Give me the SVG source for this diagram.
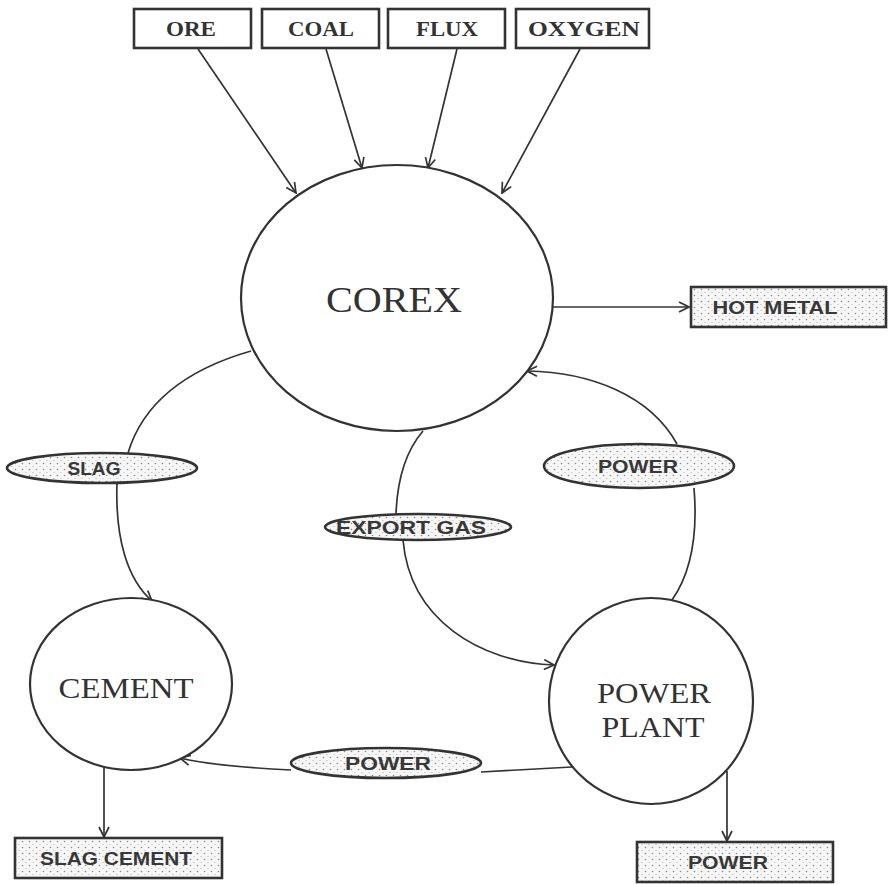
<svg xmlns="http://www.w3.org/2000/svg" width="892" height="884" viewBox="0 0 892 884">
<style>
.ln{fill:none;stroke:#333;stroke-width:1.7}
.nd{fill:#fff;stroke:#333;stroke-width:2.2}
.box{fill:#fff;stroke:#333;stroke-width:2.6}
.dot{fill:url(#dots);stroke:#333;stroke-width:2.6}
.ser{font-family:"Liberation Serif","Times New Roman",serif;fill:#333;text-anchor:middle}
.sb{font-family:"Liberation Serif",serif;font-weight:bold;font-size:20px;fill:#333;text-anchor:middle}
.sans{font-family:"Liberation Sans",Arial,sans-serif;font-weight:bold;font-size:18px;fill:#383838;text-anchor:middle}
</style>
<defs>
<pattern id="dots" width="7" height="6" patternUnits="userSpaceOnUse">
<rect width="7" height="6" fill="#f6f6f6"/>
<circle cx="1.5" cy="1.5" r="0.8" fill="#8a8a8a"/>
<circle cx="5" cy="4.5" r="0.6" fill="#aaa"/>
</pattern>
<marker id="arr" viewBox="0 0 12 12" refX="11" refY="6" markerWidth="12" markerHeight="12" markerUnits="userSpaceOnUse" orient="auto">
<path d="M1,1 L11,6 L1,11" fill="none" stroke="#333" stroke-width="1.7"/>
</marker>
</defs>
<g id="connectors">
<path class="ln" d="M198,49 L296,193" marker-end="url(#arr)"/>
<path class="ln" d="M326,49 L362,168" marker-end="url(#arr)"/>
<path class="ln" d="M457,49 L428,168" marker-end="url(#arr)"/>
<path class="ln" d="M580,49 L502,193" marker-end="url(#arr)"/>
<path class="ln" d="M553,307 L689,307" marker-end="url(#arr)"/>
<path class="ln" d="M251,351 Q150,380 128,453"/>
<path class="ln" d="M117,483 C115,540 128,580 152,601" marker-end="url(#arr)"/>
<path class="ln" d="M423,431 Q398,460 396,514"/>
<path class="ln" d="M403,540 C410,620 480,662 554,665" marker-end="url(#arr)"/>
<path class="ln" d="M672,600 Q700,560 694,488"/>
<path class="ln" d="M677,444 C650,395 590,372 527,371" marker-end="url(#arr)"/>
<path class="ln" d="M572,767 L481,772"/>
<path class="ln" d="M291,770 C250,768 210,765 180,758" marker-end="url(#arr)"/>
<path class="ln" d="M104,768 L104,837" stroke-width="2.4" marker-end="url(#arr)"/>
<path class="ln" d="M727,771 L727,841" stroke-width="2.4" marker-end="url(#arr)"/>
</g>
<g id="ore"><rect class="box" x="134" y="9" width="117" height="39"/><text class="sb" x="191" y="36" textLength="50" lengthAdjust="spacingAndGlyphs">ORE</text></g>
<g id="coal"><rect class="box" x="262" y="9" width="117" height="39"/><text class="sb" x="321" y="36" textLength="66" lengthAdjust="spacingAndGlyphs">COAL</text></g>
<g id="flux"><rect class="box" x="388" y="9" width="117" height="39"/><text class="sb" x="447" y="36" textLength="62" lengthAdjust="spacingAndGlyphs">FLUX</text></g>
<g id="oxygen"><rect class="box" x="516" y="9" width="133" height="39"/><text class="sb" x="584" y="36" textLength="112" lengthAdjust="spacingAndGlyphs">OXYGEN</text></g>
<g id="corex"><ellipse class="nd" cx="397" cy="298" rx="156" ry="133"/><text class="ser" x="394" y="312" font-size="36" textLength="136" lengthAdjust="spacingAndGlyphs">COREX</text></g>
<g id="hotmetal"><rect class="dot" x="691" y="287" width="195" height="40"/><text class="sans" x="775" y="314" textLength="125" lengthAdjust="spacingAndGlyphs">HOT  METAL</text></g>
<g id="slag"><ellipse class="dot" cx="102" cy="468" rx="95" ry="15"/><text class="sans" x="94" y="475" textLength="53" lengthAdjust="spacingAndGlyphs">SLAG</text></g>
<g id="exportgas"><ellipse class="dot" cx="418" cy="527" rx="93" ry="13"/><text class="sans" x="411" y="534" textLength="150" lengthAdjust="spacingAndGlyphs">EXPORT GAS</text></g>
<g id="power1"><ellipse class="dot" cx="639" cy="466" rx="95" ry="22"/><text class="sans" x="638" y="473" textLength="80" lengthAdjust="spacingAndGlyphs">POWER</text></g>
<g id="cement"><ellipse class="nd" cx="131" cy="684" rx="101" ry="86"/><text class="ser" x="126" y="698" font-size="30" textLength="135" lengthAdjust="spacingAndGlyphs">CEMENT</text></g>
<g id="powerplant"><ellipse class="nd" cx="651" cy="701" rx="102" ry="103"/><text class="ser" x="654" y="703" font-size="30" textLength="114" lengthAdjust="spacingAndGlyphs">POWER</text><text class="ser" x="653" y="737" font-size="30" textLength="103" lengthAdjust="spacingAndGlyphs">PLANT</text></g>
<g id="power2"><ellipse class="dot" cx="386" cy="763" rx="95" ry="15"/><text class="sans" x="388" y="770" textLength="86" lengthAdjust="spacingAndGlyphs">POWER</text></g>
<g id="slagcement"><rect class="dot" x="15" y="838" width="207" height="40"/><text class="sans" x="116" y="865" textLength="152" lengthAdjust="spacingAndGlyphs">SLAG CEMENT</text></g>
<g id="powerout"><rect class="dot" x="637" y="842" width="196" height="40"/><text class="sans" x="728" y="869" textLength="80" lengthAdjust="spacingAndGlyphs">POWER</text></g>
</svg>
